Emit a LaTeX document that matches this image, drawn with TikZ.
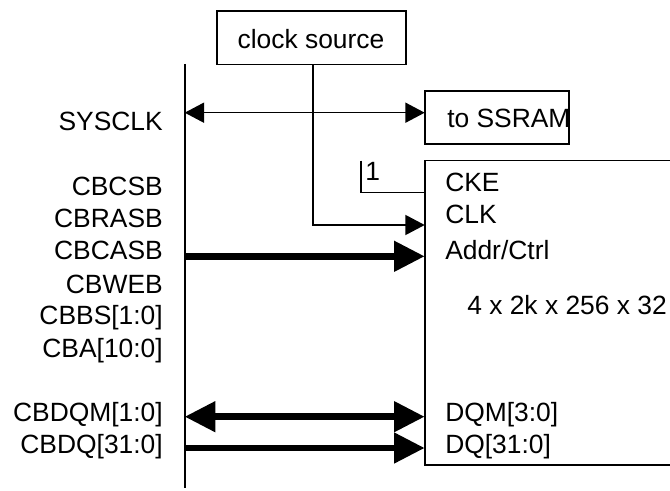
\documentclass[tikz,border=0pt]{standalone}
\usepackage{fontspec}
\setmainfont{Liberation Sans}
\usetikzlibrary{arrows.meta}
\tikzset{
 lbl/.style={font=\fontsize{19.8}{22}\selectfont,inner sep=0pt},
 rlbl/.style={lbl,anchor=base east},
 llbl/.style={lbl,anchor=base west},
 edge/.style={line width=1.2pt},
 thinone/.style={edge,-{Triangle[length=14.5pt,width=15pt]}},
 thintwo/.style={edge,{Triangle[length=14.5pt,width=15pt]}-{Triangle[length=14.5pt,width=15pt]}},
 thickone/.style={line width=5pt,-{Triangle[length=23pt,width=22pt]}},
 thicktwo/.style={line width=5pt,{Triangle[length=23pt,width=22pt]}-{Triangle[length=23pt,width=22pt]}},
}
\begin{document}
\begin{tikzpicture}[x=0.75pt,y=-0.75pt]
\useasboundingbox (0,0) rectangle (670,491);
\fill[white] (0,0) rectangle (670,491);
% bus
\coordinate (bt) at (184.7,64);
\coordinate (bb) at (184.7,488);
\draw[edge] (bt)--(bb);
% boxes
\draw[edge] (216.7,11) rectangle (405.7,64.5);
\draw[edge] (424.7,91) rectangle (569,144);
\draw[edge] (670,160.7) -- (424.7,160.7) -- (424.7,465) -- (670,465);
\node[lbl,anchor=base] (clk) at (311,49) {clock source};
\node[llbl] (ss) at (447,128) {to SSRAM};
% anchors
\coordinate (cs) at (313,64.5);
\coordinate (ssl) at (424.7,112.7);
\coordinate (sl) at (184.7,112.7);
\coordinate (cl) at (424.7,225);
\coordinate (ke) at (424.7,192.7);
\coordinate (ketop) at (360.7,160.7);
\coordinate (ac) at (424.7,256.3);
\coordinate (acl) at (184.7,256.3);
\coordinate (dm) at (424.7,416.7);
\coordinate (dml) at (184.7,416.7);
\coordinate (dq) at (424.7,448);
\coordinate (dql) at (184.7,448);
% connectors
\draw[thintwo] (sl) -- (ssl);
\draw[thinone] (cs) |- (cl);
\draw[edge] (ketop) |- (ke);
\draw[thickone] (acl) -- (ac);
\draw[thicktwo] (dml) -- (dm);
\draw[thickone] (dql) -- (dq);
% left labels
\node[rlbl] (n1) at (163,131) {SYSCLK};
\node[rlbl] (n2) at (163,196) {CBCSB};
\node[rlbl] (n3) at (163,228) {CBRASB};
\node[rlbl] (n4) at (163,260) {CBCASB};
\node[rlbl] (n5) at (163,293) {CBWEB};
\node[rlbl] (n6) at (163,325) {CBBS[1:0]};
\node[rlbl] (n7) at (163,357) {CBA[10:0]};
\node[rlbl] (n8) at (163,421) {CBDQM[1:0]};
\node[rlbl] (n9) at (163,453) {CBDQ[31:0]};
% right labels
\node[llbl] (r0) at (365,181) {1};
\node[llbl] (r1) at (445,192) {CKE};
\node[llbl] (r2) at (445,224) {CLK};
\node[llbl] (r3) at (445,260) {Addr/Ctrl};
\node[llbl] (r4) at (467,314) {4 x 2k x 256 x 32};
\node[llbl] (r5) at (445,421) {DQM[3:0]};
\node[llbl] (r6) at (445,453) {DQ[31:0]};
\end{tikzpicture}
\end{document}
